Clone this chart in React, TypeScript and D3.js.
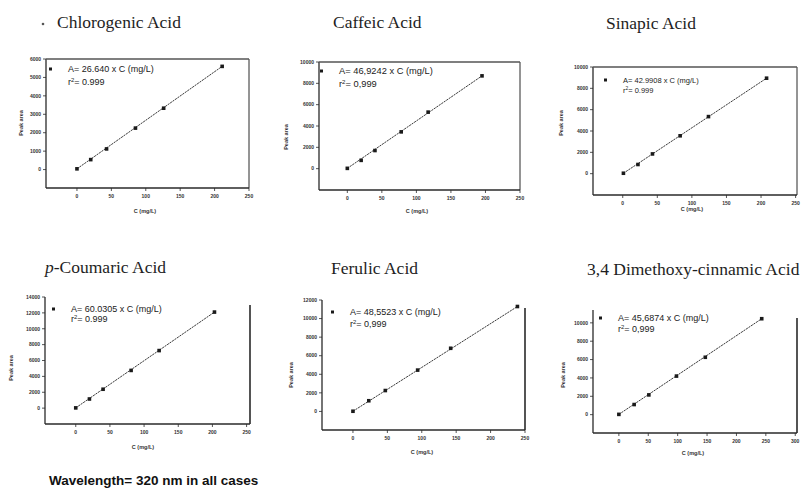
import React from "react";
import * as d3 from "d3";

// ---- data ----
const titles = ["Chlorogenic Acid", "Caffeic Acid", "Sinapic Acid", "-Coumaric Acid", "Ferulic Acid", "3,4 Dimethoxy-cinnamic Acid"];
const equations = [
  "A= 26.640 x C (mg/L)",
  "A= 46,9242 x C (mg/L)",
  "A= 42.9908 x C (mg/L)",
  "A= 60.0305 x C (mg/L)",
  "A= 48,5523 x C (mg/L)",
  "A= 45,6874 x C (mg/L)",
];
const r2Values = ["0.999", "0,999", "0.999", "0.999", "0,999", "0,999"];
const xAxisLabel = "C (mg/L)";
const yAxisLabel = "Peak area";
const footnote = "Wavelength= 320 nm in all cases";

const chlorogenicC = [0, 20, 43, 85, 126, 211];
const chlorogenicA = [40, 540, 1120, 2250, 3330, 5600];
const caffeicC = [0, 20, 40, 78, 117, 195];
const caffeicA = [30, 780, 1700, 3450, 5300, 8700];
const sinapicC = [1, 22, 43, 83, 124, 208];
const sinapicA = [40, 860, 1850, 3550, 5350, 8950];
const coumaricC = [0, 20, 40, 81, 122, 203];
const coumaricA = [30, 1150, 2380, 4750, 7250, 12100];
const ferulicC = [0, 23, 47, 94, 142, 239];
const ferulicA = [20, 1150, 2250, 4450, 6800, 11300];
const dimethoxyC = [0, 26, 51, 98, 147, 243];
const dimethoxyA = [30, 1100, 2150, 4200, 6250, 10450];

const xTicks250 = [0, 50, 100, 150, 200, 250];
const xTicks300 = [0, 50, 100, 150, 200, 250, 300];
const yTicks6000 = [0, 1000, 2000, 3000, 4000, 5000, 6000];
const yTicks10000 = [0, 2000, 4000, 6000, 8000, 10000];
const yTicks12000 = [0, 2000, 4000, 6000, 8000, 10000, 12000];
const yTicks14000 = [0, 2000, 4000, 6000, 8000, 10000, 12000, 14000];

const seriesC = [chlorogenicC, caffeicC, sinapicC, coumaricC, ferulicC, dimethoxyC];
const seriesA = [chlorogenicA, caffeicA, sinapicA, coumaricA, ferulicA, dimethoxyA];
const xTickSets = [xTicks250, xTicks250, xTicks250, xTicks250, xTicks250, xTicks300];
const yTickSets = [yTicks6000, yTicks10000, yTicks10000, yTicks14000, yTicks12000, yTicks10000];

// ---- layout (pixel geometry) ----
type Layout = {
  l: number; t: number; r: number; b: number;
  xDom: [number, number]; yDom: [number, number];
  topLine: boolean;
  titleX: number; titleY: number;
  eqX: number; eqY: number; eqGap: number; eqSize: number;
  yLabX: number; yLabY: number; xLabX: number; xLabY: number;
};
const layouts: Layout[] = [
  { l: 46, t: 59, r: 249, b: 188, xDom: [-45, 250], yDom: [-1000, 6000], topLine: true,
    titleX: 57, titleY: 28, eqX: 68, eqY: 69, eqGap: 13, eqSize: 9, yLabX: 21, yLabY: 123, xLabX: 145, xLabY: 211 },
  { l: 319, t: 62, r: 520, b: 190, xDom: [-41, 250], yDom: [-2000, 10000], topLine: true,
    titleX: 333, titleY: 28, eqX: 339, eqY: 71, eqGap: 13, eqSize: 9.3, yLabX: 286, yLabY: 137, xLabX: 417, xLabY: 211 },
  { l: 593, t: 67, r: 797, b: 195, xDom: [-43, 252], yDom: [-2000, 10000], topLine: true,
    titleX: 606, titleY: 29, eqX: 623, eqY: 80, eqGap: 10, eqSize: 7.5, yLabX: 561, yLabY: 123, xLabX: 692, xLabY: 209 },
  { l: 45, t: 297, r: 250, b: 424, xDom: [-45, 255], yDom: [-2000, 14000], topLine: false,
    titleX: 45, titleY: 273, eqX: 71, eqY: 309, eqGap: 10, eqSize: 9, yLabX: 11, yLabY: 368, xLabX: 143, xLabY: 447 },
  { l: 322, t: 300, r: 525, b: 430, xDom: [-45, 250], yDom: [-2000, 12000], topLine: false,
    titleX: 331, titleY: 274, eqX: 350, eqY: 312, eqGap: 12, eqSize: 9, yLabX: 291, yLabY: 375, xLabX: 422, xLabY: 452 },
  { l: 593, t: 310, r: 797, b: 433, xDom: [-44, 303], yDom: [-2000, 11400], topLine: false,
    titleX: 587, titleY: 275, eqX: 618, eqY: 318, eqGap: 11, eqSize: 9, yLabX: 563, yLabY: 375, xLabX: 693, xLabY: 453 },
];

const ink = "#2a2a2a";
const sans = "Liberation Sans, Arial, sans-serif";
const serif = "Liberation Serif, Times New Roman, serif";

function Panel({ i }: { i: number }) {
  const L = layouts[i];
  const x = d3.scaleLinear().domain(L.xDom).range([L.l, L.r]);
  const y = d3.scaleLinear().domain(L.yDom).range([L.b, L.t]);
  const C = seriesC[i];
  const A = seriesA[i];
  const pts = C.map((c, k) => [c, A[k]] as [number, number]);
  const line = d3.line<[number, number]>().x((d) => x(d[0])).y((d) => y(d[1]));
  const fit: [number, number][] = [pts[0], pts[pts.length - 1]];
  return (
    <g>
      <text x={L.titleX} y={L.titleY} fontFamily={serif} fontSize={17.5} fill="#1e1e1e">
        {i === 3 ? (
          <>
            <tspan fontStyle="italic">p</tspan>
            {titles[i]}
          </>
        ) : (
          titles[i]
        )}
      </text>
      {i === 0 && <circle cx={43} cy={24} r={1.3} fill="#555" />}
      <line x1={L.l} y1={L.t} x2={L.l} y2={L.b} stroke={ink} strokeWidth={1.3} />
      <line x1={L.l} y1={L.b} x2={L.r} y2={L.b} stroke={ink} strokeWidth={1.3} />
      <line x1={L.r} y1={L.topLine ? L.t : L.t + 8} x2={L.r} y2={L.b} stroke={ink} strokeWidth={i >= 3 ? 1.6 : 1} />
      {L.topLine && <line x1={L.l} y1={L.t} x2={L.r} y2={L.t} stroke="#555" strokeWidth={1.4} />}
      {yTickSets[i].map((v) => (
        <g key={"y" + v}>
          <line x1={L.l - 3} x2={L.l} y1={y(v)} y2={y(v)} stroke={ink} strokeWidth={0.8} />
          <text x={L.l - 5} y={y(v)} dy="0.35em" textAnchor="end" fontFamily={sans} fontSize={5}
            fontWeight="bold" fill="#333">{v}</text>
        </g>
      ))}
      {xTickSets[i].map((v) => (
        <g key={"x" + v}>
          <line x1={x(v)} x2={x(v)} y1={L.b} y2={L.b + 3} stroke={ink} strokeWidth={0.8} />
          <text x={x(v)} y={L.b + 8} dy="0.35em" textAnchor="middle" fontFamily={sans} fontSize={5}
            fontWeight="bold" fill="#333">{v}</text>
        </g>
      ))}
      <text transform={`translate(${L.yLabX},${L.yLabY}) rotate(-90)`} textAnchor="middle" dy="0.35em"
        fontFamily={sans} fontSize={5.5} fontWeight="bold" fill="#333">{yAxisLabel}</text>
      <text x={L.xLabX} y={L.xLabY} textAnchor="middle" dy="0.35em" fontFamily={sans} fontSize={5.5}
        fontWeight="bold" fill="#333">{xAxisLabel}</text>
      <path d={line(fit) || ""} fill="none" stroke="#3a3a3a" strokeWidth={1} strokeDasharray="2.2,0.8" />
      {pts.map((p, k) => (
        <rect key={k} x={x(p[0]) - 1.8} y={y(p[1]) - 1.8} width={3.6} height={3.6} fill="#1a1a1a" />
      ))}
      <rect x={L.eqX - 19} y={L.eqY - 1.5} width={3} height={3} fill="#1a1a1a" />
      <text x={L.eqX} y={L.eqY} dy="0.35em" fontFamily={sans} fontSize={L.eqSize} fill="#1a1a1a">
        {equations[i]}
      </text>
      <text x={L.eqX} y={L.eqY + L.eqGap} dy="0.35em" fontFamily={sans} fontSize={L.eqSize} fill="#1a1a1a">
        r<tspan dy="-3" fontSize={L.eqSize * 0.65}>2</tspan><tspan dy="3">= {r2Values[i]}</tspan>
      </text>
    </g>
  );
}

export default function App() {
  return (
    <svg width={809} height={488} style={{ position: "absolute", left: 0, top: 0, background: "#fff" }}>
      <rect width={809} height={488} fill="#fff" />
      {layouts.map((_, i) => (
        <Panel key={i} i={i} />
      ))}
      <text x={49} y={480} dy="0.35em" fontFamily={sans} fontSize={13.5} fontWeight="bold" fill="#111">
        {footnote}
      </text>
    </svg>
  );
}
